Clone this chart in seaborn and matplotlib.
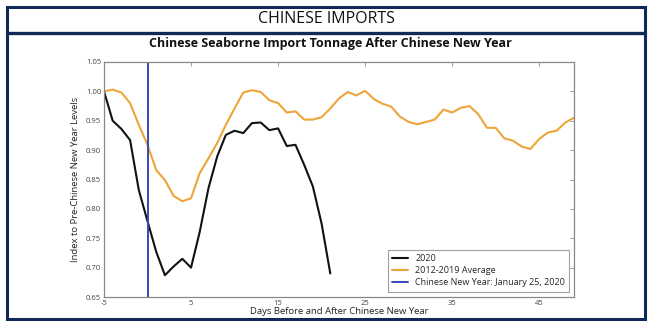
import matplotlib
matplotlib.use("Agg")
import matplotlib.pyplot as plt
import seaborn as sns
import pandas as pd
from matplotlib.patches import Rectangle
from matplotlib.lines import Line2D

# Days relative to Chinese New Year
days_2020 = list(range(-5, 22))
index_2020 = [1.000, 0.950, 0.936, 0.917, 0.832, 0.779, 0.727, 0.687, 0.702, 0.715,
              0.700, 0.761, 0.835, 0.889, 0.926, 0.933, 0.929, 0.946, 0.947, 0.934,
              0.937, 0.907, 0.909, 0.875, 0.838, 0.775, 0.690]

days_avg = list(range(-5, 50))
index_avg = [1.000, 1.003, 0.998, 0.980, 0.943, 0.909, 0.866, 0.849, 0.822, 0.813,
             0.818, 0.861, 0.886, 0.912, 0.943, 0.971, 0.998, 1.002, 0.999, 0.985,
             0.980, 0.964, 0.966, 0.952, 0.952, 0.956, 0.971, 0.988, 0.999, 0.993,
             1.001, 0.987, 0.979, 0.974, 0.957, 0.948, 0.944, 0.948, 0.952, 0.969,
             0.964, 0.972, 0.975, 0.961, 0.938, 0.938, 0.920, 0.916, 0.906, 0.902,
             0.919, 0.930, 0.933, 0.947, 0.955]

cny_day = 0
x_ticks = [-5, 5, 15, 25, 35, 45]
y_ticks = [0.65, 0.70, 0.75, 0.80, 0.85, 0.90, 0.95, 1.00, 1.05]

label_2020 = "2020"
label_avg = "2012-2019 Average"
label_cny = "Chinese New Year: January 25, 2020"

df_2020 = pd.DataFrame({"day": days_2020, "index": index_2020})
df_avg = pd.DataFrame({"day": days_avg, "index": index_avg})

sns.set_theme(style="white")
plt.rcParams["font.family"] = ["Open Sans", "DejaVu Sans"]

navy = "#0f2a5a"
c_black = "#111111"
c_orange = "#eea43a"
c_blue = "#3947b8"

fig = plt.figure(figsize=(6.57, 3.28), dpi=100)
fig.patch.set_facecolor("white")

# Outer frame and header divider
fig.patches.append(Rectangle((7 / 657, 9 / 328), 638 / 657, 312 / 328,
                             transform=fig.transFigure, fill=False,
                             edgecolor=navy, linewidth=2.2))
fig.lines.append(Line2D([7 / 657, 645 / 657], [(328 - 33) / 328] * 2,
                        transform=fig.transFigure, color=navy, linewidth=2.4))
fig.text(0.497, (328 - 19) / 328, "CHINESE IMPORTS", ha="center", va="center",
         fontsize=11.5, color="#111111")
fig.text(0.503, (328 - 44) / 328,
         "Chinese Seaborne Import Tonnage After Chinese New Year",
         ha="center", va="center", fontsize=9, fontweight="bold", color="#111111")

ax = fig.add_axes([104 / 657, (328 - 297) / 328, 470 / 657, 235 / 328])

sns.lineplot(data=df_2020, x="day", y="index", ax=ax, color=c_black,
             linewidth=1.5, label=label_2020)
sns.lineplot(data=df_avg, x="day", y="index", ax=ax, color=c_orange,
             linewidth=1.5, label=label_avg)
ax.axvline(cny_day, color=c_blue, linewidth=1.4, label=label_cny)

ax.set_xlim(-5, 49)
ax.set_ylim(0.65, 1.05)
ax.set_xticks(x_ticks)
ax.set_yticks(y_ticks)
ax.set_xticklabels([str(t) for t in x_ticks])
ax.set_yticklabels([f"{t:.2f}" for t in y_ticks])
ax.tick_params(direction="in", length=3, width=0.6, colors="#888888",
               labelcolor="#444444", labelsize=5.5, top=True, right=True, pad=2)

for s in ax.spines.values():
    s.set_color("#888888")
    s.set_linewidth(0.9)

ax.set_xlabel("Days Before and After Chinese New Year", fontsize=6.8,
              color="#222222", labelpad=0.5)
ax.set_ylabel("Index to Pre-Chinese New Year Levels", fontsize=6.8,
              color="#222222", labelpad=4)

leg = ax.legend(loc="lower right", fontsize=6.5, frameon=True, fancybox=False,
                borderpad=0.45, labelspacing=0.35, handlelength=1.8,
                bbox_to_anchor=(0.999, 0.004))
leg.get_frame().set_edgecolor("#888888")
leg.get_frame().set_linewidth(0.8)

fig.savefig("out.png", dpi=100)
